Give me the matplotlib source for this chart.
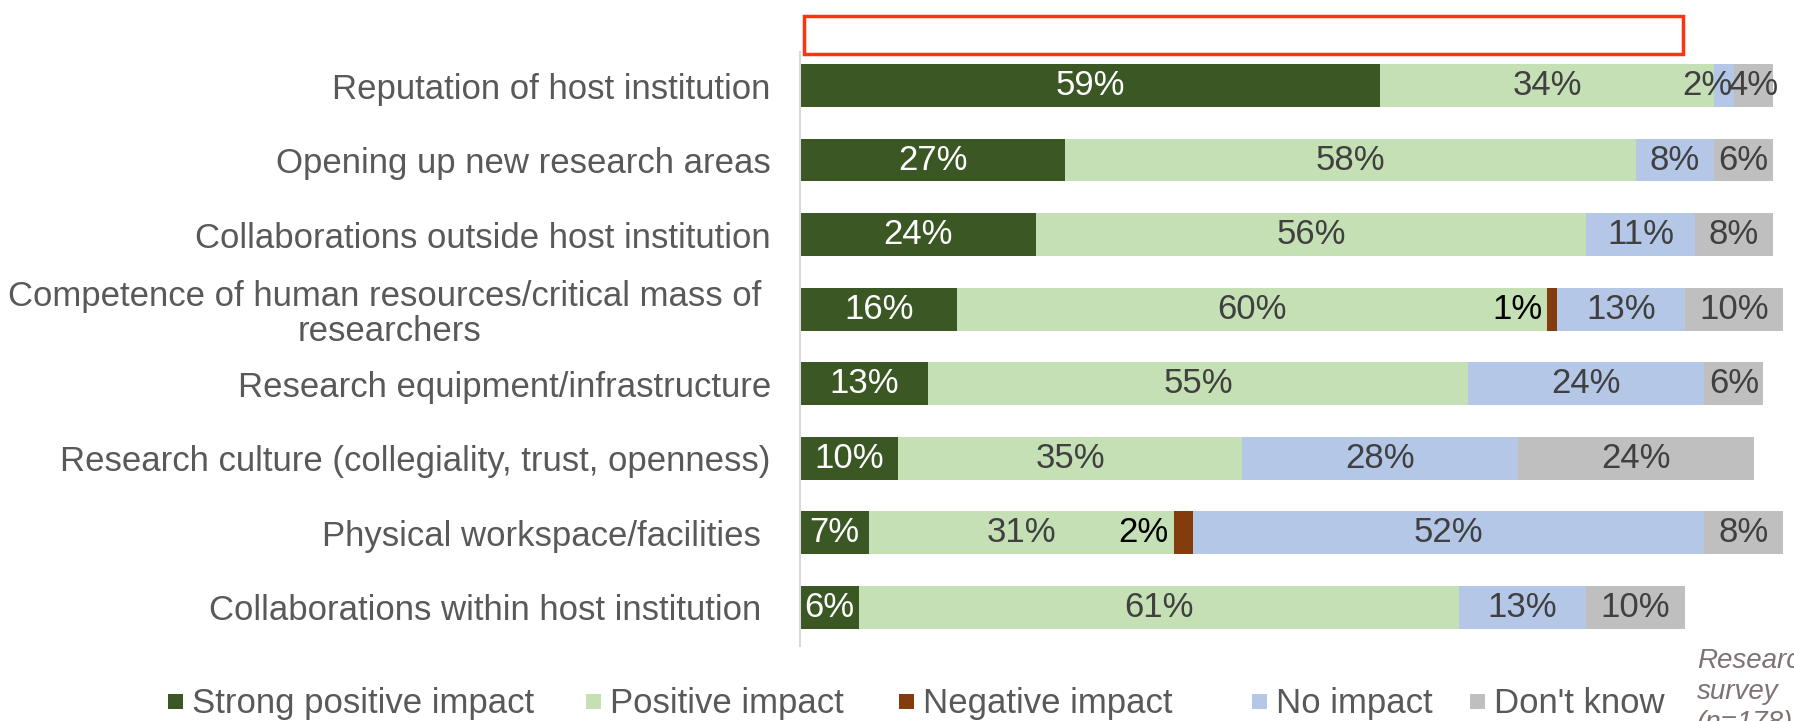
import numpy as np
import matplotlib
matplotlib.use("Agg")
import matplotlib.pyplot as plt
from matplotlib.patches import Rectangle

plt.rcParams['font.family'] = ['Liberation Sans', 'DejaVu Sans']

# data, top row first
categories = [
    "Reputation of host institution",
    "Opening up new research areas",
    "Collaborations outside host institution",
    "Competence of human resources/critical mass of \nresearchers",
    "Research equipment/infrastructure",
    "Research culture (collegiality, trust, openness)",
    "Physical workspace/facilities ",
    "Collaborations within host institution ",
]
strong_positive = [59, 27, 24, 16, 13, 10, 7, 6]
positive = [34, 58, 56, 60, 55, 35, 31, 61]
negative = [0, 0, 0, 1, 0, 0, 2, 0]
no_impact = [2, 8, 11, 13, 24, 28, 52, 13]
dont_know = [4, 6, 8, 10, 6, 24, 8, 10]

series_names = ["Strong positive impact", "Positive impact", "Negative impact",
                "No impact", "Don't know"]
colors = ["#3A5724", "#C5E0B4", "#843C0C", "#B4C7E7", "#BFBFBF"]
label_colors = ["white", "#404040", "black", "#404040", "#404040"]

TEXT = "#595959"
FS = 25
W, H = 1794, 721

fig = plt.figure(figsize=(W / 100, H / 100), dpi=100)
ax = fig.add_axes([800 / W, 75 / H, 983 / W, 594 / H])

y = np.arange(len(categories))
left = np.zeros(len(categories))
all_series = [strong_positive, positive, negative, no_impact, dont_know]

for k, vals in enumerate(all_series):
    vals = np.array(vals, dtype=float)
    ax.barh(y, vals, left=left, height=0.575, color=colors[k], label=series_names[k])
    for i, v in enumerate(vals):
        if v <= 0:
            continue
        if k == 2:
            # negative labels sit just left of the thin brown segment
            ax.text(left[i] - 0.5, y[i], f"{int(v)}%", ha="right", va="center",
                    fontsize=FS, color=label_colors[k])
        elif v < 3:
            # too narrow: push the label to the left so it doesn't sit on the next one
            ax.text(left[i] + v - 0.1, y[i], f"{int(v)}%", ha="right", va="center",
                    fontsize=FS, color=label_colors[k])
        else:
            ax.text(left[i] + v / 2, y[i], f"{int(v)}%", ha="center", va="center",
                    fontsize=FS, color=label_colors[k])
    left += vals

ax.set_xlim(0, 100)
ax.set_ylim(7.52, -0.45)
ax.set_yticks(y)
ax.set_yticklabels(categories, fontsize=FS, color=TEXT, linespacing=1.1,
                   multialignment="center")
ax.tick_params(axis="y", length=0, pad=21)
ax.set_xticks([])
for s in ["top", "right", "bottom"]:
    ax.spines[s].set_visible(False)
ax.spines["left"].set_color("#D9D9D9")
ax.spines["left"].set_linewidth(1.5)

# legend, laid out by hand to match the uneven spacing of the original
legend_x = [168, 586, 899, 1252, 1470]
for name, c, lx in zip(series_names, colors, legend_x):
    fig.patches.append(Rectangle((lx / W, 1 - 709 / H), 15 / W, 15 / H,
                                 transform=fig.transFigure, facecolor=c,
                                 edgecolor="none"))
    fig.text((lx + 24) / W, 1 - 713 / H, name, ha="left", va="baseline",
             fontsize=FS, color=TEXT)

# empty red box above the bars
fig.patches.append(Rectangle((804 / W, 1 - 54 / H), 879 / W, 38 / H,
                             transform=fig.transFigure, fill=False,
                             edgecolor="#FF3311", linewidth=2.5))

# source note, runs off the right edge like the original
fig.text(1697 / W, 1 - 648 / H, "Research\nsurvey\n(n=178)", ha="left", va="top",
         fontsize=20, style="italic", color="#7F7272", linespacing=1.25)

fig.savefig("out.png", dpi=100)
